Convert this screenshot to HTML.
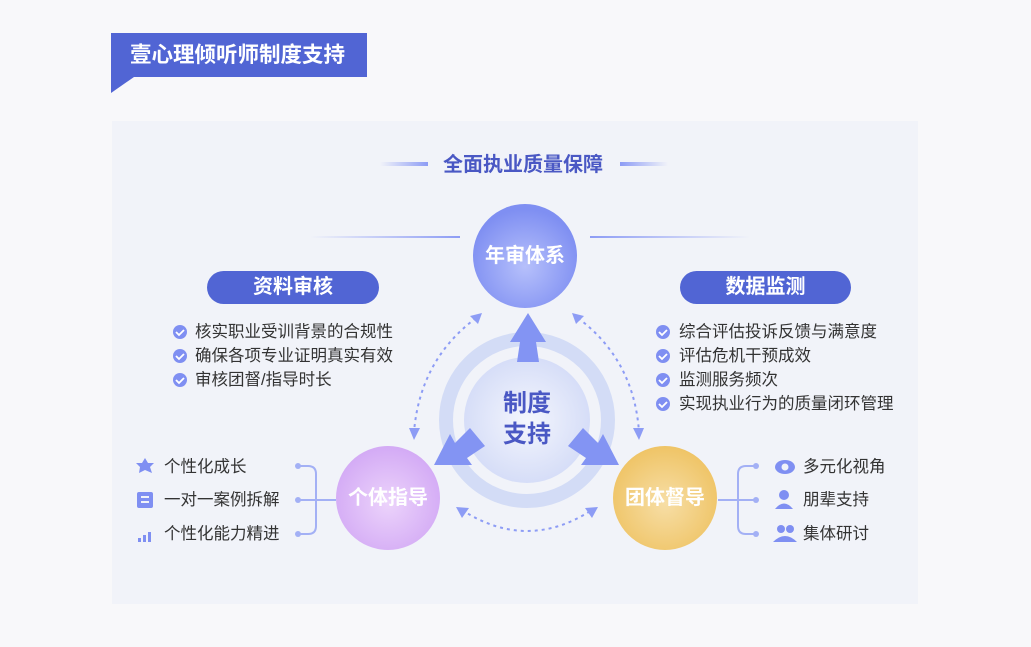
<!DOCTYPE html>
<html><head><meta charset="utf-8"><style>
body{margin:0;width:1031px;height:647px;background:#f8f8fa;position:relative;overflow:hidden;font-family:"Liberation Sans","Noto Sans CJK SC",sans-serif;}
.a{position:absolute;}
.t{position:absolute;font-size:16.5px;color:#333;white-space:nowrap;line-height:22px;}
.pill{position:absolute;height:33px;border-radius:17px;background:#5165d4;color:#fff;font-size:20px;font-weight:bold;text-align:center;line-height:33px;}
</style></head><body>
<div class="a" style="left:112px;top:121px;width:806px;height:483px;background:#f1f3f9"></div>
<div class="a" style="left:111px;top:33px;width:256px;height:44px;background:#5165d4;color:#fff;font-size:21.5px;font-weight:bold;line-height:44px;text-indent:19px">壹心理倾听师制度支持</div>
<svg class="a" style="left:0;top:0" width="1031" height="647">
<defs>
<radialGradient id="gb" cx="50%" cy="60%" r="55%"><stop offset="0" stop-color="#b6c0fb"/><stop offset="1" stop-color="#7f8ff2"/></radialGradient>
<radialGradient id="gp" cx="50%" cy="55%" r="55%"><stop offset="0" stop-color="#ecd3fb"/><stop offset="1" stop-color="#d3aaf5"/></radialGradient>
<radialGradient id="gy" cx="50%" cy="55%" r="55%"><stop offset="0" stop-color="#f7dea6"/><stop offset="1" stop-color="#efc466"/></radialGradient>
<radialGradient id="gc" cx="50%" cy="50%" r="55%"><stop offset="0" stop-color="#f4f6fd"/><stop offset="1" stop-color="#d3dbf7"/></radialGradient>
<linearGradient id="l1" x1="0" x2="1"><stop offset="0" stop-color="#8d9cf5" stop-opacity="0"/><stop offset="1" stop-color="#8d9cf5"/></linearGradient>
<linearGradient id="l2" x1="1" x2="0"><stop offset="0" stop-color="#8d9cf5" stop-opacity="0"/><stop offset="1" stop-color="#8d9cf5"/></linearGradient>
</defs>
<rect x="380" y="162" width="48" height="4" fill="url(#l1)"/>
<rect x="620" y="162" width="48" height="4" fill="url(#l2)"/>
<rect x="310" y="236" width="150" height="2" fill="url(#l1)"/>
<rect x="590" y="236" width="160" height="2" fill="url(#l2)"/>
<circle cx="527" cy="420" r="81" fill="none" stroke="#d3dcf6" stroke-width="14"/>
<circle cx="527" cy="420" r="63" fill="url(#gc)"/>
<g fill="#8394f3">
<polygon points="528,313 510,342 520,342 517,362 539,362 536,342 546,342"/>
<polygon points="434,465 450,434 455,443 470,428 485,446 467,458 472,465"/>
<polygon points="619,465 603,434 598,443 583,428 568,446 586,458 581,465"/>
</g>
<g fill="none" stroke="#8d9cf5" stroke-width="2" stroke-dasharray="3,4">
<path d="M476,318 Q420,360 414,432"/>
<path d="M578,318 Q634,360 639,432"/>
<path d="M462,510 Q527,552 592,510"/>
</g>
<g fill="#8d9cf5">
<polygon points="482,313 470,316 478,324"/>
<polygon points="414,440 409,428 420,428"/>
<polygon points="572,313 584,316 576,324"/>
<polygon points="639,440 644,428 633,428"/>
<polygon points="456,507 469,508 462,518"/>
<polygon points="598,507 585,508 592,518"/>
</g>
<circle cx="525" cy="256" r="52" fill="url(#gb)"/>
<circle cx="388" cy="498" r="52" fill="url(#gp)"/>
<circle cx="665" cy="498" r="52" fill="url(#gy)"/>
<g fill="none" stroke="#a3b0f5" stroke-width="2">
<path d="M298,466 H308 Q316,466 316,474 V526 Q316,534 308,534 H298"/><path d="M298,500 H336"/>
<path d="M756,466 H746 Q738,466 738,474 V526 Q738,534 746,534 H756"/><path d="M718,500 H756"/>
</g>
<g fill="#a3b0f5"><circle cx="298" cy="466" r="3"/><circle cx="298" cy="500" r="3"/><circle cx="298" cy="534" r="3"/>
<circle cx="756" cy="466" r="3"/><circle cx="756" cy="500" r="3"/><circle cx="756" cy="534" r="3"/></g>
<g fill="#7f8ff2">
<circle cx="180" cy="332" r="7"/><circle cx="180" cy="356" r="7"/><circle cx="180" cy="380" r="7"/>
<circle cx="663" cy="332" r="7"/><circle cx="663" cy="356" r="7"/><circle cx="663" cy="380" r="7"/><circle cx="663" cy="404" r="7"/>
<polygon points="145,458 148,463 154,463 150,467 152,473 145,470 139,473 140,467 136,463 142,463"/>
<rect x="137" y="492" width="16" height="16" rx="2"/>
<rect x="138" y="538" width="3" height="4"/><rect x="143" y="535" width="3" height="7"/><rect x="148" y="532" width="3" height="10"/>
<ellipse cx="785" cy="467" rx="10" ry="7"/>
<circle cx="784" cy="495" r="5"/><path d="M775,509 Q784,498 793,509Z"/>
<circle cx="781" cy="529" r="4"/><circle cx="790" cy="529" r="4"/><path d="M773,542 Q785,530 797,542Z"/>
</g>
<circle cx="785" cy="467" r="3.5" fill="#f1f3f9"/>
<rect x="141" y="496" width="8" height="2" fill="#f1f3f9"/><rect x="141" y="501" width="8" height="2" fill="#f1f3f9"/>
<g stroke="#fff" stroke-width="1.8" fill="none">
<path d="M176,332 l3,3 l5,-5"/><path d="M176,356 l3,3 l5,-5"/><path d="M176,380 l3,3 l5,-5"/>
<path d="M659,332 l3,3 l5,-5"/><path d="M659,356 l3,3 l5,-5"/><path d="M659,380 l3,3 l5,-5"/><path d="M659,404 l3,3 l5,-5"/>
</g>
</svg>
<div class="a" style="left:413px;top:151px;width:220px;text-align:center;font-size:20px;font-weight:bold;color:#4a58c4;line-height:28px">全面执业质量保障</div>
<div class="a" style="left:460px;top:242px;width:130px;text-align:center;font-size:20px;font-weight:bold;color:#fff;line-height:28px">年审体系</div>
<div class="a" style="left:323px;top:484px;width:130px;text-align:center;font-size:20px;font-weight:bold;color:#fff;line-height:28px">个体指导</div>
<div class="a" style="left:600px;top:484px;width:130px;text-align:center;font-size:20px;font-weight:bold;color:#fff;line-height:28px">团体督导</div>
<div class="a" style="left:477px;top:388px;width:100px;text-align:center;font-size:24px;font-weight:bold;color:#4a58c4;line-height:31px">制度<br>支持</div>
<div class="pill" style="left:207px;top:271px;width:172px">资料审核</div>
<div class="pill" style="left:680px;top:271px;width:171px">数据监测</div>
<div class="t" style="left:195px;top:321px">核实职业受训背景的合规性</div>
<div class="t" style="left:195px;top:345px">确保各项专业证明真实有效</div>
<div class="t" style="left:195px;top:369px">审核团督/指导时长</div>
<div class="t" style="left:679px;top:321px">综合评估投诉反馈与满意度</div>
<div class="t" style="left:679px;top:345px">评估危机干预成效</div>
<div class="t" style="left:679px;top:369px">监测服务频次</div>
<div class="t" style="left:679px;top:393px">实现执业行为的质量闭环管理</div>
<div class="t" style="left:164px;top:456px">个性化成长</div>
<div class="t" style="left:164px;top:489px">一对一案例拆解</div>
<div class="t" style="left:164px;top:523px">个性化能力精进</div>
<div class="t" style="left:803px;top:456px">多元化视角</div>
<div class="t" style="left:803px;top:489px">朋辈支持</div>
<div class="t" style="left:803px;top:523px">集体研讨</div>
<div class="a" style="left:111px;top:77px;width:0;height:0;border-top:16px solid #5165d4;border-right:23px solid transparent"></div>
</body></html>
